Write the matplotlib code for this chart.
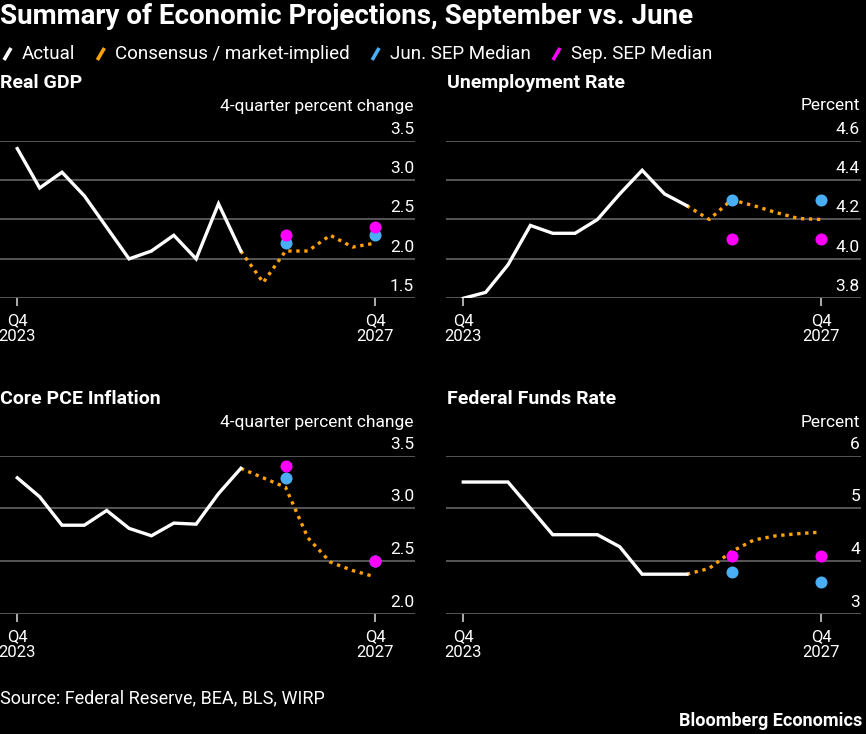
import matplotlib
matplotlib.use('Agg')
import matplotlib.pyplot as plt
from matplotlib.lines import Line2D
import matplotlib.transforms as mtransforms

# ---------------- data ----------------
actual_x = list(range(0, 11))
consensus_x = list(range(10, 17))
sep_x = [12, 16]
xtick_pos = [0, 16]
xtick_labels = ['Q4\n2023', 'Q4\n2027']

gdp_actual = [3.4, 2.9, 3.1, 2.8, 2.4, 2.0, 2.1, 2.3, 2.0, 2.7, 2.1]
gdp_consensus = [2.1, 1.7, 2.1, 2.1, 2.3, 2.15, 2.2]
gdp_jun = [2.2, 2.3]
gdp_sep = [2.3, 2.4]
gdp_ticks = [1.5, 2.0, 2.5, 3.0, 3.5]

unemp_actual = [3.8, 3.83, 3.97, 4.17, 4.13, 4.13, 4.2, 4.33, 4.45, 4.33, 4.27]
unemp_consensus = [4.27, 4.2, 4.3, 4.27, 4.235, 4.205, 4.2]
unemp_jun = [4.3, 4.3]
unemp_sep = [4.1, 4.1]
unemp_ticks = [3.8, 4.0, 4.2, 4.4, 4.6]

pce_actual = [3.29, 3.11, 2.84, 2.84, 2.98, 2.81, 2.74, 2.86, 2.85, 3.14, 3.38]
pce_consensus = [3.38, 3.29, 3.2, 2.72, 2.49, 2.41, 2.35]
pce_jun = [3.29, 2.5]
pce_sep = [3.4, 2.5]
pce_ticks = [2.0, 2.5, 3.0, 3.5]

ffr_actual = [5.5, 5.5, 5.5, 5.0, 4.5, 4.5, 4.5, 4.27, 3.75, 3.75, 3.75]
ffr_consensus = [3.75, 3.86, 4.18, 4.40, 4.48, 4.52, 4.55]
ffr_jun = [3.8, 3.6]
ffr_sep = [4.1, 4.1]
ffr_ticks = [3, 4, 5, 6]

# ---------------- style ----------------
W, H = 866, 734
BG = '#000000'
WHITE = '#ffffff'
ORANGE = '#ffa10a'
BLUE = '#4aaef5'
MAGENTA = '#ff00ff'
GRID = '#5c5c5c'
FONT = ['Roboto', 'DejaVu Sans']

plt.rcParams['font.family'] = FONT
plt.rcParams['text.color'] = WHITE

fig = plt.figure(figsize=(W / 100, H / 100), dpi=100, facecolor=BG)


def px_axes(x0, y_top, x1, y_bot):
    return fig.add_axes([x0 / W, 1 - y_bot / H, (x1 - x0) / W, (y_bot - y_top) / H])


def draw_panel(ax, title, unit, actual, consensus, jun, sep, ticks, fmt,
               title_x, title_y, unit_y):
    ax.set_facecolor(BG)
    for s in ax.spines.values():
        s.set_visible(False)
    ax.set_xlim(-0.774, 17.79)
    ax.set_ylim(ticks[0], ticks[-1])
    for t in ticks:
        ax.axhline(t, color=GRID, lw=1.3, zorder=1)
    trans = mtransforms.blended_transform_factory(ax.transAxes, ax.transData)
    off = mtransforms.offset_copy(trans, fig=fig, x=-1, y=4, units='dots')
    for t in ticks:
        ax.text(1.0, t, fmt.format(t), transform=off, ha='right', va='bottom',
                fontsize=12.5, color=WHITE, clip_on=False)
    ax.set_yticks([])
    ax.plot(consensus_x, consensus, color=ORANGE, lw=2.4,
            linestyle=(0, (1.0, 1.4)), zorder=2)
    ax.plot(actual_x, actual, color=WHITE, lw=2.4, zorder=3,
            solid_joinstyle='miter')
    ax.scatter(sep_x, jun, s=75, color=BLUE, zorder=4, linewidths=0)
    ax.scatter(sep_x, sep, s=75, color=MAGENTA, zorder=5, linewidths=0)
    ax.set_xticks(xtick_pos)
    ax.set_xticklabels(xtick_labels, fontsize=12, color=WHITE, linespacing=1.05)
    ax.tick_params(axis='x', length=6, width=1.3, color='#bbbbbb', pad=5)
    pos = ax.get_position()
    x_right = (pos.x1 * W)
    fig.text(title_x / W, 1 - title_y / H, title, fontsize=14,
             fontweight='bold', ha='left', va='center', color=WHITE)
    fig.text((x_right - 1) / W, 1 - unit_y / H, unit, fontsize=12.5,
             ha='right', va='center', color=WHITE)


ax1 = px_axes(0, 140.7, 415, 298.3)
ax2 = px_axes(446, 140.7, 861, 298.3)
ax3 = px_axes(0, 455.7, 415, 613.7)
ax4 = px_axes(446, 455.7, 861, 613.7)

draw_panel(ax1, 'Real GDP', '4-quarter percent change', gdp_actual, gdp_consensus,
           gdp_jun, gdp_sep, gdp_ticks, '{:.1f}', 0, 83, 106)
draw_panel(ax2, 'Unemployment Rate', 'Percent', unemp_actual, unemp_consensus,
           unemp_jun, unemp_sep, unemp_ticks, '{:.1f}', 447, 83, 106)
draw_panel(ax3, 'Core PCE Inflation', '4-quarter percent change', pce_actual,
           pce_consensus, pce_jun, pce_sep, pce_ticks, '{:.1f}', 0, 399, 422)
draw_panel(ax4, 'Federal Funds Rate', 'Percent', ffr_actual, ffr_consensus,
           ffr_jun, ffr_sep, ffr_ticks, '{:.0f}', 447, 399, 422)

# title
fig.text(0 / W, 1 - 17 / H, 'Summary of Economic Projections, September vs. June',
         fontsize=20, fontweight='bold', ha='left', va='center', color=WHITE)

# legend
legend_labels = ['Actual', 'Consensus / market-implied', 'Jun. SEP Median', 'Sep. SEP Median']
legend_colors = [WHITE, ORANGE, BLUE, MAGENTA]
renderer = fig.canvas.get_renderer()
x = 3
ly = 54
for lab, col in zip(legend_labels, legend_colors):
    fig.add_artist(Line2D([(x + 1) / W, (x + 8) / W], [1 - (ly + 6) / H, 1 - (ly - 6) / H],
                          transform=fig.transFigure, color=col, lw=2.6,
                          solid_capstyle='butt'))
    t = fig.text((x + 19) / W, 1 - ly / H, lab, fontsize=13.5, ha='left', va='center',
                 color=WHITE)
    bb = t.get_window_extent(renderer=renderer)
    x = bb.x1 + 21

# footer
fig.text(0, 1 - 698 / H, 'Source: Federal Reserve, BEA, BLS, WIRP', fontsize=13,
         ha='left', va='center', color=WHITE)
fig.text(862 / W, 1 - 721 / H, 'Bloomberg Economics', fontsize=13, fontweight='bold',
         ha='right', va='center', color=WHITE)

fig.savefig('out.png', dpi=100, facecolor=BG)
